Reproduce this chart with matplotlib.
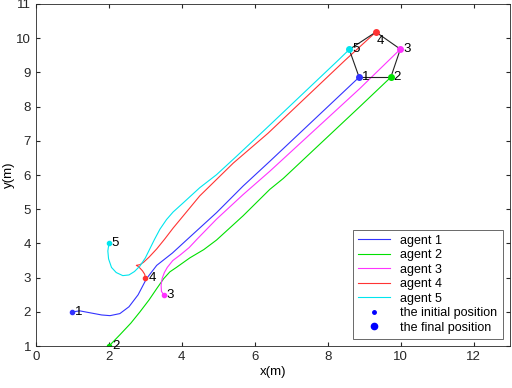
import matplotlib
matplotlib.use("Agg")
import matplotlib.pyplot as plt
from matplotlib.lines import Line2D

plt.rcParams['font.family'] = ['Liberation Sans', 'DejaVu Sans']

# trajectories
agent1_x = [1.0, 1.2, 1.5, 1.8, 2.03, 2.3, 2.55, 2.8, 3.03, 3.31, 3.74, 4.2, 4.95, 5.68, 6.41, 8.86]
agent1_y = [2.0, 2.03, 1.97, 1.91, 1.89, 1.95, 2.15, 2.5, 2.97, 3.36, 3.72, 4.17, 4.9, 5.68, 6.4, 8.86]

agent2_x = [2.0, 2.3, 2.6, 2.85, 3.1, 3.31, 3.5, 3.67, 3.85, 4.22, 4.6, 4.95, 5.68, 6.41, 6.78, 8.88, 9.73]
agent2_y = [1.0, 1.33, 1.67, 2.0, 2.35, 2.68, 2.97, 3.17, 3.3, 3.58, 3.82, 4.1, 4.81, 5.58, 5.9, 8.0, 8.86]

agent3_x = [3.5, 3.44, 3.43, 3.46, 3.52, 3.6, 3.75, 3.95, 4.2, 4.42, 4.95, 5.68, 6.41, 8.88, 9.99]
agent3_y = [2.5, 2.6, 2.78, 2.98, 3.15, 3.3, 3.5, 3.66, 3.88, 4.13, 4.71, 5.43, 6.11, 8.53, 9.68]

agent4_x = [3.0, 2.98, 2.92, 2.85, 2.8, 2.75, 2.85, 2.95, 3.1, 3.31, 3.53, 3.76, 4.04, 4.49, 4.95, 5.41, 6.36, 8.47, 9.32]
agent4_y = [3.0, 3.1, 3.2, 3.28, 3.33, 3.36, 3.38, 3.45, 3.6, 3.84, 4.13, 4.45, 4.81, 5.39, 5.87, 6.35, 7.22, 9.35, 10.18]

agent5_x = [2.0, 1.97, 1.99, 2.07, 2.2, 2.38, 2.55, 2.7, 2.85, 3.0, 3.12, 3.25, 3.4, 3.58, 3.76, 4.04, 4.49, 4.95, 5.5, 6.32, 8.28, 8.59]
agent5_y = [4.0, 3.78, 3.55, 3.3, 3.15, 3.06, 3.08, 3.18, 3.34, 3.58, 3.84, 4.12, 4.42, 4.7, 4.92, 5.19, 5.63, 6.01, 6.55, 7.37, 9.35, 9.67]

labels = ["1", "2", "3", "4", "5"]
names = ["agent 1", "agent 2", "agent 3", "agent 4", "agent 5"]
colors = ["#3333ff", "#00e000", "#ff33ff", "#ff3333", "#00e5ee"]

xs = [agent1_x, agent2_x, agent3_x, agent4_x, agent5_x]
ys = [agent1_y, agent2_y, agent3_y, agent4_y, agent5_y]

# pentagon formation edges (final positions)
edges = [(0, 1), (1, 2), (2, 3), (3, 4), (4, 0)]

fig = plt.figure(figsize=(5.12, 3.88), dpi=100)
ax = fig.add_axes([0.0703, 0.108, 0.926, 0.8817])

for i in range(5):
    ax.plot(xs[i], ys[i], color=colors[i], lw=0.8, label=names[i])

for a, b in edges:
    ax.plot([xs[a][-1], xs[b][-1]], [ys[a][-1], ys[b][-1]], color="#222222", lw=0.8)

for i in range(5):
    ax.plot(xs[i][0], ys[i][0], '.', color=colors[i], ms=6)
    ax.plot(xs[i][-1], ys[i][-1], 'o', color=colors[i], ms=4)
    ax.text(xs[i][0] + 0.08, ys[i][0], labels[i], fontsize=9.5, va="center", ha="left")
    if i == 3:
        ax.text(xs[i][-1] + 0.02, ys[i][-1] - 0.1, labels[i], fontsize=9.5, va="top", ha="left")
    else:
        ax.text(xs[i][-1] + 0.08, ys[i][-1], labels[i], fontsize=9.5, va="center", ha="left")

ax.set_xlim(0, 13)
ax.set_ylim(1, 11)
ax.set_xticks([0, 2, 4, 6, 8, 10, 12])
ax.set_yticks(range(1, 12))
ax.tick_params(direction="in", top=True, right=True, labelsize=9.5, length=3, colors="#262626")
for s in ax.spines.values():
    s.set_color("#262626")
    s.set_linewidth(0.6)
ax.set_xlabel("x(m)", fontsize=9.5, labelpad=2)
ax.set_ylabel("y(m)", fontsize=9.5, labelpad=1)

handles = [Line2D([], [], color=c, lw=0.8) for c in colors]
handles.append(Line2D([], [], ls="none", marker=".", color="blue", ms=5))
handles.append(Line2D([], [], ls="none", marker="o", color="blue", ms=4.5))
leg = ax.legend(handles, names + ["the initial position", "the final position"],
                loc="lower right", fontsize=9, frameon=True, fancybox=False,
                edgecolor="#262626", handlelength=2.6, labelspacing=0.2,
                borderaxespad=0.6, borderpad=0.4)
leg.get_frame().set_linewidth(0.6)

fig.savefig("out.png", dpi=100)
